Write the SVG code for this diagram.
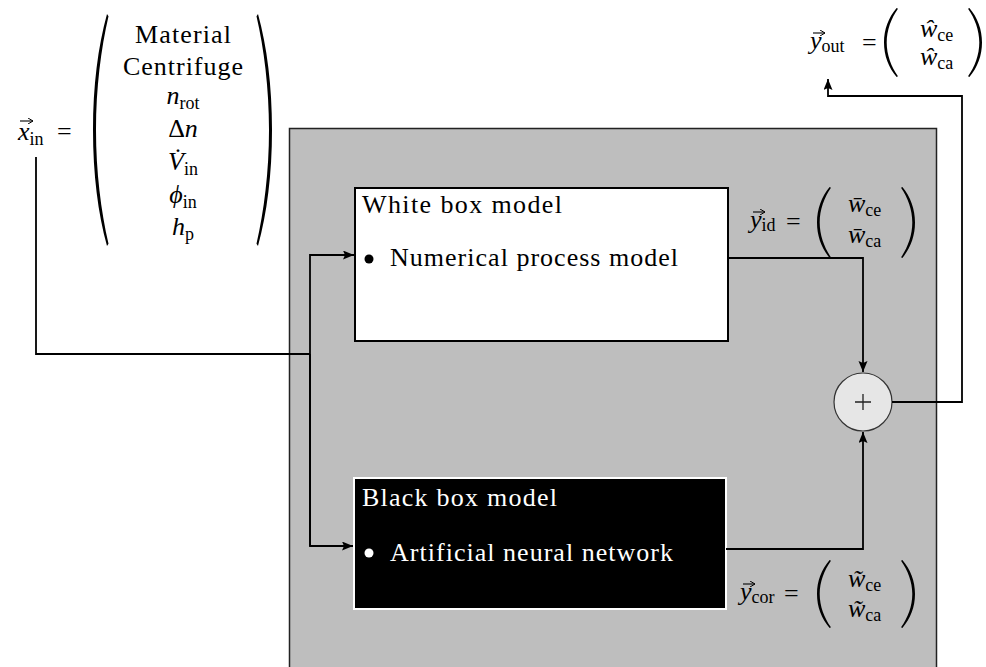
<svg xmlns="http://www.w3.org/2000/svg" width="986" height="667" viewBox="0 0 986 667">
  <style>
    text { font-family: "Liberation Serif", "DejaVu Serif", serif; font-size: 26px; fill: #000; }
    .it { font-style: italic; }
    .sub { font-size: 18px; font-style: normal; }
    .mid { text-anchor: middle; }
    .wt { fill: #fff; }
    .wire { fill: none; stroke: #000; stroke-width: 1.8; }
    .vec { fill: none; stroke: #000; stroke-width: 1.1; }
  </style>
  <defs>
    <marker id="ah" markerUnits="userSpaceOnUse" markerWidth="12" markerHeight="10" refX="11" refY="4.5" orient="auto">
      <path d="M0,0 L11,4.5 L0,9 L2,4.5 Z" fill="#000"/>
    </marker>
    <marker id="vh" markerUnits="userSpaceOnUse" markerWidth="6" markerHeight="6" refX="5" refY="3" orient="auto">
      <path d="M0,0 L5,3 L0,6" fill="none" stroke="#000" stroke-width="1"/>
    </marker>
    <!-- left delimiter, 15 wide x 100 tall -->
    <path id="lp" d="M14,0 C5,14 0,31 0,50 C0,69 5,86 14,100 L15.5,99 C8,85 3,68 3,50 C3,32 8,15 15.5,1 Z" fill="#000"/>
  </defs>

  <!-- hybrid model frame -->
  <rect id="frame" x="289.5" y="128.5" width="647" height="545" fill="#bebebe" stroke="#222" stroke-width="1.5"/>

  <!-- input vector -->
  <g id="input">
    <text x="18" y="140" class="it">x<tspan class="sub" dy="5">in</tspan></text>
    <path class="vec" d="M20,121 H33" marker-end="url(#vh)"/>
    <text x="57" y="140">=</text>
    <use href="#lp" transform="translate(93,14) scale(1,2.32)"/>
    <use href="#lp" transform="translate(272,14) scale(-1,2.32)"/>
    <text x="183" y="43" class="mid" textLength="96">Material</text>
    <text x="183" y="75" class="mid" textLength="120">Centrifuge</text>
    <text x="183" y="104" class="mid it">n<tspan class="sub" dy="5">rot</tspan></text>
    <text x="183" y="137" class="mid">Δ<tspan class="it">n</tspan></text>
    <text x="183" y="170" class="mid it">V̇<tspan class="sub" dy="5">in</tspan></text>
    <text x="183" y="203" class="mid it">ϕ<tspan class="sub" dy="5">in</tspan></text>
    <text x="183" y="235" class="mid it">h<tspan class="sub" dy="5">p</tspan></text>
  </g>

  <!-- white box model -->
  <g id="white-box">
    <rect x="355" y="188" width="373" height="153" fill="#fff" stroke="#000" stroke-width="2"/>
    <text x="362" y="213" textLength="200">White box model</text>
    <circle cx="369" cy="259" r="4.5" fill="#000"/>
    <text x="390" y="266" textLength="288">Numerical process model</text>
  </g>

  <!-- black box model -->
  <g id="black-box">
    <rect x="354" y="478" width="372" height="131" fill="#000" stroke="#fff" stroke-width="2"/>
    <text x="362" y="506" class="wt" textLength="195">Black box model</text>
    <circle cx="369" cy="553" r="4.5" fill="#fff"/>
    <text x="390" y="561" class="wt" textLength="283">Artificial neural network</text>
  </g>

  <!-- summation node -->
  <g id="sum">
    <circle cx="863" cy="402" r="29" fill="#e6e6e6" stroke="#333" stroke-width="1.2"/>
    <path d="M855,402 H871 M863,394 V410" stroke="#222" stroke-width="1.3"/>
  </g>

  <!-- identified output -->
  <g id="y-id">
    <text x="750" y="228" class="it">y<tspan class="sub" dy="3">id</tspan></text>
    <path class="vec" d="M753,212 H765" marker-end="url(#vh)"/>
    <text x="786" y="230">=</text>
    <use href="#lp" transform="translate(817,187) scale(0.9,0.71)"/>
    <use href="#lp" transform="translate(915,187) scale(-0.9,0.71)"/>
    <text x="848" y="212" class="it">w̄<tspan class="sub" dy="4">ce</tspan></text>
    <text x="848" y="243" class="it">w̄<tspan class="sub" dy="4">ca</tspan></text>
  </g>

  <!-- correction output -->
  <g id="y-cor">
    <text x="740" y="600" class="it">y<tspan class="sub" dy="3">cor</tspan></text>
    <path class="vec" d="M743,584 H755" marker-end="url(#vh)"/>
    <text x="784" y="602">=</text>
    <use href="#lp" transform="translate(817,560) scale(0.9,0.68)"/>
    <use href="#lp" transform="translate(915,560) scale(-0.9,0.68)"/>
    <text x="848" y="587" class="it">w̃<tspan class="sub" dy="4">ce</tspan></text>
    <text x="848" y="617" class="it">w̃<tspan class="sub" dy="4">ca</tspan></text>
  </g>

  <!-- model output -->
  <g id="y-out">
    <text x="810" y="49" class="it">y<tspan class="sub" dy="3">out</tspan></text>
    <path class="vec" d="M813,33 H825" marker-end="url(#vh)"/>
    <text x="862" y="51">=</text>
    <use href="#lp" transform="translate(884,8) scale(0.9,0.69)"/>
    <use href="#lp" transform="translate(982,8) scale(-0.9,0.69)"/>
    <text x="920" y="37" class="it">ŵ<tspan class="sub" dy="4">ce</tspan></text>
    <text x="920" y="65" class="it">ŵ<tspan class="sub" dy="4">ca</tspan></text>
  </g>

  <!-- connectors -->
  <g id="connectors">
    <path class="wire" d="M36,157 V354 H310"/>
    <path class="wire" d="M310,546 V255 H354" marker-end="url(#ah)"/>
    <path class="wire" d="M310,354 V546 H353" marker-end="url(#ah)"/>
    <path class="wire" d="M728,258 H863 V372" marker-end="url(#ah)"/>
    <path class="wire" d="M726,549 H863 V432" marker-end="url(#ah)"/>
    <path class="wire" d="M892,402 H962 V96 H828 V79" marker-end="url(#ah)"/>
  </g>
</svg>
